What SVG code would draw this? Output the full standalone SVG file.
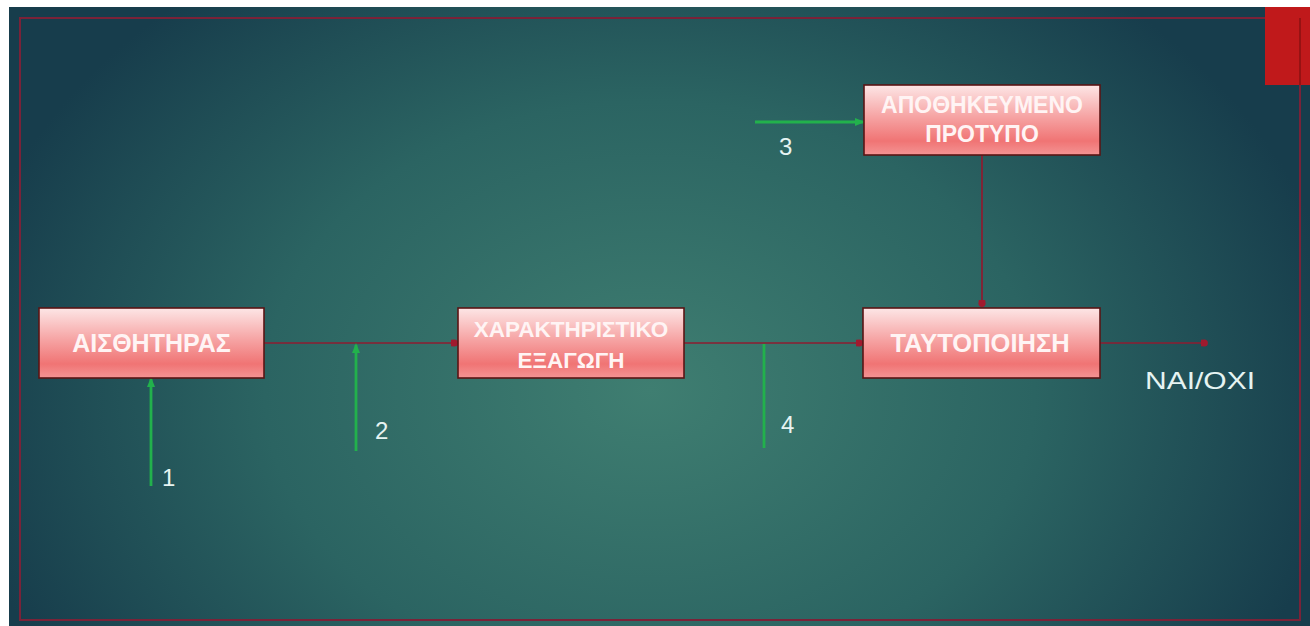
<svg xmlns="http://www.w3.org/2000/svg" width="1310" height="626" viewBox="0 0 1310 626">
<defs>
<radialGradient id="bg" cx="650" cy="390" r="700" gradientUnits="userSpaceOnUse" gradientTransform="translate(650 390) scale(1 0.75) translate(-650 -390)">
<stop offset="0" stop-color="#3f7e71"/>
<stop offset="0.55" stop-color="#2b6462"/>
<stop offset="1" stop-color="#173d4c"/>
</radialGradient>
<linearGradient id="box" x1="0" y1="0" x2="0" y2="1">
<stop offset="0" stop-color="#fde6e6"/>
<stop offset="0.45" stop-color="#f6a4a4"/>
<stop offset="0.8" stop-color="#f07474"/>
<stop offset="1" stop-color="#f49494"/>
</linearGradient>
<marker id="dot" viewBox="0 0 10 10" refX="7" refY="5" markerWidth="9" markerHeight="9" markerUnits="userSpaceOnUse" orient="auto">
<path d="M0,1.5 L4,1 A4,4 0 0 1 4,9 L0,8.5 Z" fill="#a01a2e"/>
</marker>
<marker id="garr" viewBox="0 0 10 10" refX="8" refY="5" markerWidth="10" markerHeight="10" markerUnits="userSpaceOnUse" orient="auto">
<path d="M0,1 L10,5 L0,9 Z" fill="#22b14c"/>
</marker>
</defs>
<style>
.node rect{fill:url(#box);stroke:#5a1414;stroke-width:1.6}
.nt{font-family:"Liberation Sans",Arial,sans-serif;font-weight:bold;fill:#fff4f4;text-anchor:middle}
.red{stroke:#8e1c30;stroke-width:1.7;fill:none}
.grn{stroke:#22b14c;stroke-width:2.8;fill:none}
.lbl{font-family:"Liberation Sans",Arial,sans-serif;fill:#e6f4f2;font-size:24px}
</style>
<rect x="0" y="0" width="1310" height="626" fill="#ffffff"/>
<rect x="9" y="7" width="1301" height="619" fill="url(#bg)"/>
<rect x="20" y="18" width="1280" height="602" fill="none" stroke="#7a2238" stroke-width="2"/>
<rect x="1265" y="7" width="45" height="78" fill="#c0191b"/>
<line x1="1300" y1="18" x2="1300" y2="85" stroke="#8a1012" stroke-width="1.5"/>

<g id="connectors">
<line class="red" x1="264" y1="343" x2="457" y2="343" marker-end="url(#dot)"/>
<line class="red" x1="684" y1="343" x2="862" y2="343" marker-end="url(#dot)"/>
<line class="red" x1="1100" y1="343" x2="1207" y2="343" marker-end="url(#dot)"/>
<line class="red" x1="982" y1="155" x2="982" y2="306" marker-end="url(#dot)"/>
<line class="grn" x1="151" y1="486" x2="151" y2="379" marker-end="url(#garr)"/>
<line class="grn" x1="356" y1="451" x2="356" y2="345" marker-end="url(#garr)"/>
<line class="grn" x1="764" y1="448" x2="764" y2="344"/>
<line class="grn" x1="755" y1="122" x2="863" y2="122" marker-end="url(#garr)"/>
</g>

<g id="node-aisthitiras" class="node">
<rect x="39" y="308" width="225" height="70"/>
<text class="nt" x="151.5" y="352" font-size="25">ΑΙΣΘΗΤΗΡΑΣ</text>
</g>
<g id="node-xaraktiristiko" class="node">
<rect x="458" y="308" width="226" height="70"/>
<text class="nt" x="571" y="337" font-size="22.5">ΧΑΡΑΚΤΗΡΙΣΤΙΚΟ</text>
<text class="nt" x="571" y="368" font-size="22.5">ΕΞΑΓΩΓΗ</text>
</g>
<g id="node-apothikeumeno" class="node">
<rect x="864" y="85" width="236" height="70"/>
<text class="nt" x="982" y="113" font-size="23">ΑΠΟΘΗΚΕΥΜΕΝΟ</text>
<text class="nt" x="982" y="142" font-size="23">ΠΡΟΤΥΠΟ</text>
</g>
<g id="node-tautopoiisi" class="node">
<rect x="863" y="308" width="237" height="70"/>
<text class="nt" x="980" y="352" font-size="25.5">ΤΑΥΤΟΠΟΙΗΣΗ</text>
</g>

<g id="labels">
<text class="lbl" x="162" y="486">1</text>
<text class="lbl" x="375" y="439">2</text>
<text class="lbl" x="779" y="155">3</text>
<text class="lbl" x="781" y="433">4</text>
<text class="lbl" x="1145" y="389" textLength="110" lengthAdjust="spacingAndGlyphs">NAI/OXI</text>
</g>
</svg>
